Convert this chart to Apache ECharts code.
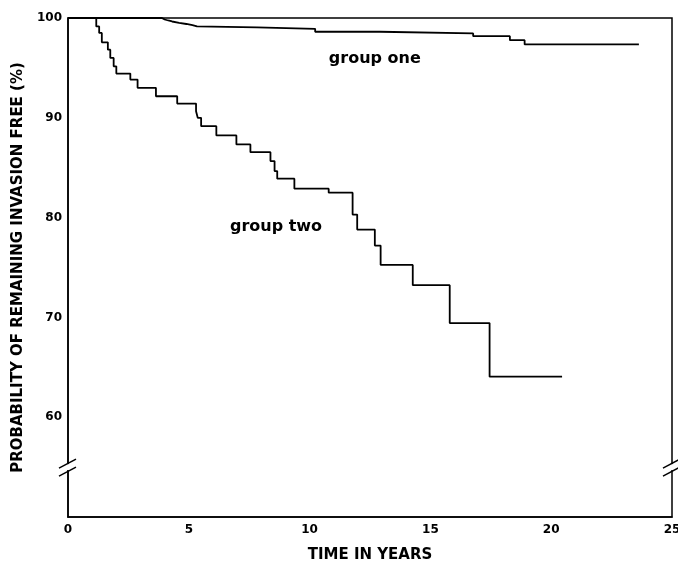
<!DOCTYPE html>
<html>
<head>
<meta charset="utf-8">
<script src="https://cdn.jsdelivr.net/npm/echarts@6/dist/echarts.min.js"></script>
<style>
html,body{margin:0;padding:0;background:#fff;}
#chart{width:678px;height:563px;}
</style>
</head>
<body>
<div id="chart"></div>
<script>
// Group one: time (years) at which the curve steps down, and the value after the step
const groupOneYears = [0, 3.89, 4.0, 4.15, 4.31, 4.6, 4.9, 5.15, 5.34, 7.82, 10.23, 12.91, 16.77, 18.29, 18.90, 23.63];
const groupOneSurv  = [100, 99.85, 99.75, 99.65, 99.52, 99.4, 99.28, 99.16, 99.07, 98.92, 98.62, 98.45, 98.18, 97.78, 97.35, 97.35];

// Group two
const groupTwoYears = [0, 1.17, 1.29, 1.40, 1.65, 1.75, 1.89, 2.00, 2.58, 2.88, 3.64, 4.52, 5.30, 5.37, 5.51, 6.14, 6.97, 7.55, 8.38, 8.55, 8.66, 9.37, 10.79, 11.78, 11.97, 12.70, 12.94, 14.27, 15.80, 17.45, 20.45];
const groupTwoSurv  = [100, 99.16, 98.5, 97.56, 96.83, 96.0, 95.16, 94.43, 93.83, 93.0, 92.16, 91.43, 90.66, 90.0, 89.16, 88.23, 87.33, 86.56, 85.66, 84.66, 83.9, 82.9, 82.5, 80.3, 78.8, 77.2, 75.26, 73.23, 69.43, 64.06, 64.06];

const seriesNames = ['group one', 'group two'];
const xTicks = [0, 5, 10, 15, 20, 25];
const yTicks = [60, 70, 80, 90, 100];
const breakValue = 55;
// label anchors (data coordinates)
const groupOneLabelAt = [12.7, 95.9];
const groupTwoLabelAt = [8.61, 79.1];

const toPairs = (xs, ys) => xs.map((x, i) => [x, ys[i]]);

const FONT = '"DejaVu Sans", "Liberation Sans", Arial, sans-serif';
const chart = echarts.init(document.getElementById('chart'), null, {renderer: 'canvas'});

function labelPoint(pos, text) {
  return {
    symbol: 'circle',
    symbolSize: 0,
    silent: true,
    label: {
      show: true, position: 'inside', formatter: text,
      color: '#000', fontFamily: FONT, fontWeight: 'bold', fontSize: 16
    },
    data: [{coord: pos, value: text}]
  };
}

chart.setOption({
  backgroundColor: '#fff',
  animation: false,
  grid: {
    left: 68, right: 6, top: 18, bottom: 46,
    containLabel: false, outerBoundsMode: 'none',
    show: true, borderColor: '#000', borderWidth: 1.5, backgroundColor: 'transparent'
  },
  xAxis: {
    type: 'value', min: 0, max: 25, interval: 5,
    name: 'TIME IN YEARS', nameLocation: 'middle', nameGap: 31,
    nameTextStyle: {color: '#000', fontFamily: FONT, fontWeight: 'bold', fontSize: 15},
    axisLine: {show: true, lineStyle: {color: '#000', width: 1.5}},
    axisTick: {show: false},
    splitLine: {show: false},
    axisLabel: {
      color: '#000', fontFamily: FONT, fontWeight: 'bold', fontSize: 12, margin: 7,
      formatter: v => xTicks.includes(v) ? String(v) : ''
    }
  },
  yAxis: {
    type: 'value', min: 50, max: 100, interval: 10,
    name: 'PROBABILITY OF REMAINING INVASION FREE (%)', nameLocation: 'middle', nameGap: 36,
    nameTextStyle: {color: '#000', fontFamily: FONT, fontWeight: 'bold', fontSize: 15},
    axisLine: {show: true, lineStyle: {color: '#000', width: 1.5}},
    axisTick: {show: false},
    splitLine: {show: false},
    axisLabel: {
      color: '#000', fontFamily: FONT, fontWeight: 'bold', fontSize: 12, margin: 6,
      formatter: v => yTicks.includes(v) ? String(v) : ''
    }
  },
  series: [
    {
      name: seriesNames[0], type: 'line', step: 'end', showSymbol: false, symbol: 'none',
      lineStyle: {color: '#000', width: 1.8}, z: 3,
      data: toPairs(groupOneYears, groupOneSurv),
      markPoint: labelPoint(groupOneLabelAt, seriesNames[0])
    },
    {
      name: seriesNames[1], type: 'line', step: 'end', showSymbol: false, symbol: 'none',
      lineStyle: {color: '#000', width: 1.8}, z: 3,
      data: toPairs(groupTwoYears, groupTwoSurv),
      markPoint: labelPoint(groupTwoLabelAt, seriesNames[1])
    }
  ]
});

// axis break marks on both vertical axes
function breakMark(px, py) {
  return [
    {type: 'rect', z: 100, shape: {x: px - 3, y: py - 3, width: 6, height: 6}, style: {fill: '#fff'}},
    {type: 'line', z: 101, shape: {x1: px - 9, y1: py + 1, x2: px + 8, y2: py - 8}, style: {stroke: '#000', lineWidth: 1.5}},
    {type: 'line', z: 101, shape: {x1: px - 9, y1: py + 9, x2: px + 8, y2: py}, style: {stroke: '#000', lineWidth: 1.5}}
  ];
}
const pl = chart.convertToPixel({gridIndex: 0}, [0, breakValue]);
const pr = chart.convertToPixel({gridIndex: 0}, [25, breakValue]);
chart.setOption({graphic: [...breakMark(pl[0], pl[1]), ...breakMark(pr[0], pr[1])]});
</script>
</body>
</html>
